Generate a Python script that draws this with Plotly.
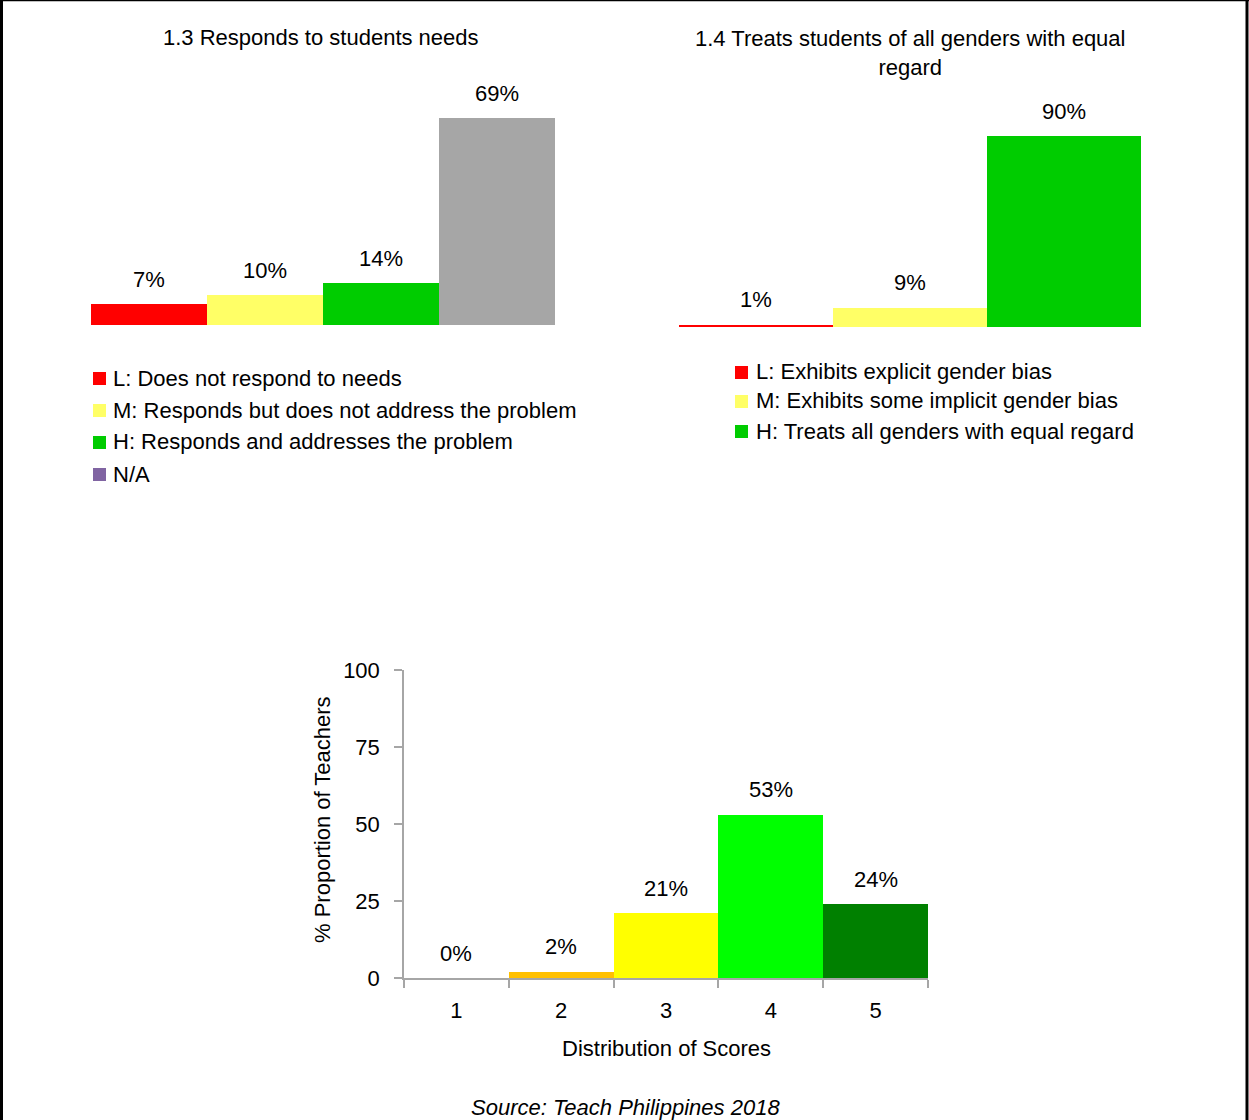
import plotly.graph_objects as go

# ---- data -------------------------------------------------------------
c1_title = "1.3 Responds to students needs"
c1_cats = ["L", "M", "H", "N/A"]
c1_vals = [7, 10, 14, 69]
c1_colors = ["#FF0000", "#FFFF66", "#00CC00", "#A6A6A6"]
c1_legend = ["L: Does not respond to needs",
             "M: Responds but does not address the problem",
             "H: Responds and addresses the problem",
             "N/A"]
c1_legend_colors = ["#FF0000", "#FFFF66", "#00CC00", "#8064A2"]

c2_title = "1.4 Treats students of all genders with equal<br>regard"
c2_cats = ["L", "M", "H"]
c2_vals = [1, 9, 90]
c2_colors = ["#FF0000", "#FFFF66", "#00CC00"]
c2_legend = ["L: Exhibits explicit gender bias",
             "M: Exhibits some implicit gender bias",
             "H: Treats all genders with equal regard"]

c3_scores = ["1", "2", "3", "4", "5"]
c3_vals = [0, 2, 21, 53, 24]
c3_colors = ["#FF0000", "#FFC000", "#FFFF00", "#00FF00", "#008000"]
c3_yticks = [0, 25, 50, 75, 100]

source_text = "Source: Teach Philippines 2018"

# ---- page geometry (pixels) ------------------------------------------
W, H = 1249, 1120
FONT = "Liberation Sans, Arial, sans-serif"
FS = 22
AX = "#A6A6A6"


def px(x):
    return x / W


def py(y):
    return 1 - y / H


fig = go.Figure()

fig.add_trace(go.Bar(x=c1_cats, y=c1_vals, marker=dict(color=c1_colors, line=dict(width=0)),
                     xaxis="x", yaxis="y", showlegend=False, hoverinfo="x+y"))
fig.add_trace(go.Bar(x=c2_cats, y=c2_vals, marker=dict(color=c2_colors, line=dict(width=0)),
                     xaxis="x2", yaxis="y2", showlegend=False, hoverinfo="x+y"))
fig.add_trace(go.Bar(x=c3_scores, y=c3_vals, marker=dict(color=c3_colors, line=dict(width=0)),
                     xaxis="x3", yaxis="y3", showlegend=False, hoverinfo="x+y"))

annotations = []
shapes = []

# value labels above each bar (x given as category index)
for vals, xr, yr in [(c1_vals, "x", "y"), (c2_vals, "x2", "y2"), (c3_vals, "x3", "y3")]:
    for i, v in enumerate(vals):
        annotations.append(dict(x=i, y=v, xref=xr, yref=yr, text=f"{v}%",
                                showarrow=False, yshift=25, xanchor="center", yanchor="middle",
                                font=dict(size=FS, color="#000000", family=FONT)))


def page_text(x, y, text, **kw):
    d = dict(x=px(x), y=py(y), xref="paper", yref="paper", text=text,
             showarrow=False, xanchor="center", yanchor="middle",
             font=dict(size=FS, color="#000", family=FONT))
    d.update(kw)
    annotations.append(d)


# chart titles
page_text(321, 38, c1_title)
page_text(910, 53, c2_title)


# hand-drawn legends (swatch + label)
def add_legend(labels, colors, sx, tx, rows):
    for lab, col, yc in zip(labels, colors, rows):
        shapes.append(dict(type="rect", xref="paper", yref="paper",
                           x0=px(sx), x1=px(sx + 13), y0=py(yc + 7), y1=py(yc - 6),
                           fillcolor=col, line=dict(width=0)))
        page_text(tx, yc, lab, xanchor="left")


add_legend(c1_legend, c1_legend_colors, 93, 111, [378, 410, 442, 474])
add_legend(c2_legend, c2_colors, 735, 754, [372, 401, 431])

# axis titles and source line for the score chart
page_text(666, 1048, "Distribution of Scores")
page_text(322, 820, "% Proportion of Teachers", textangle=-90)
page_text(625, 1107, f"<i>{source_text}</i>")

# page frame
shapes.append(dict(type="line", xref="paper", yref="paper", x0=0, x1=1, y0=py(0.5), y1=py(0.5),
                   line=dict(color="#000", width=1.5)))
shapes.append(dict(type="line", xref="paper", yref="paper", x0=px(1.5), x1=px(1.5), y0=0, y1=1,
                   line=dict(color="#000", width=3)))
shapes.append(dict(type="line", xref="paper", yref="paper", x0=px(1247), x1=px(1247), y0=0, y1=1,
                   line=dict(color="#000", width=3)))

hidden = dict(visible=False, fixedrange=True)

fig.update_layout(
    width=W, height=H,
    margin=dict(l=0, r=0, t=0, b=0, pad=0, autoexpand=False),
    paper_bgcolor="#FFFFFF", plot_bgcolor="rgba(0,0,0,0)",
    bargap=0,
    font=dict(family=FONT, size=FS, color="#000"),
    xaxis=dict(domain=[px(91), px(555)], type="category", **hidden),
    yaxis=dict(domain=[py(325), py(25)], range=[0, 100], **hidden),
    xaxis2=dict(domain=[px(679), px(1141)], type="category", anchor="y2", **hidden),
    yaxis2=dict(domain=[py(327), py(115)], range=[0, 100], anchor="x2", **hidden),
    xaxis3=dict(domain=[px(404), px(928)], type="category", anchor="y3",
                range=[-0.5, 4.5], showline=True, linecolor=AX, linewidth=1.5,
                ticks="outside", tickson="boundaries", ticklen=8, tickcolor=AX, tickwidth=1.5,
                showgrid=False, zeroline=False, tickfont=dict(size=FS, family=FONT),
                ticklabelstandoff=12, fixedrange=True, automargin=False),
    yaxis3=dict(domain=[py(978), py(670)], range=[0, 100], anchor="x3",
                tickvals=c3_yticks, showline=True, linecolor=AX, linewidth=1.5,
                ticks="outside", ticklen=8, tickcolor=AX, tickwidth=1.5,
                showgrid=False, zeroline=False, tickfont=dict(size=FS, family=FONT),
                ticklabelstandoff=10, fixedrange=True, automargin=False),
    annotations=annotations,
    shapes=shapes,
)

fig.write_html("out.html")
